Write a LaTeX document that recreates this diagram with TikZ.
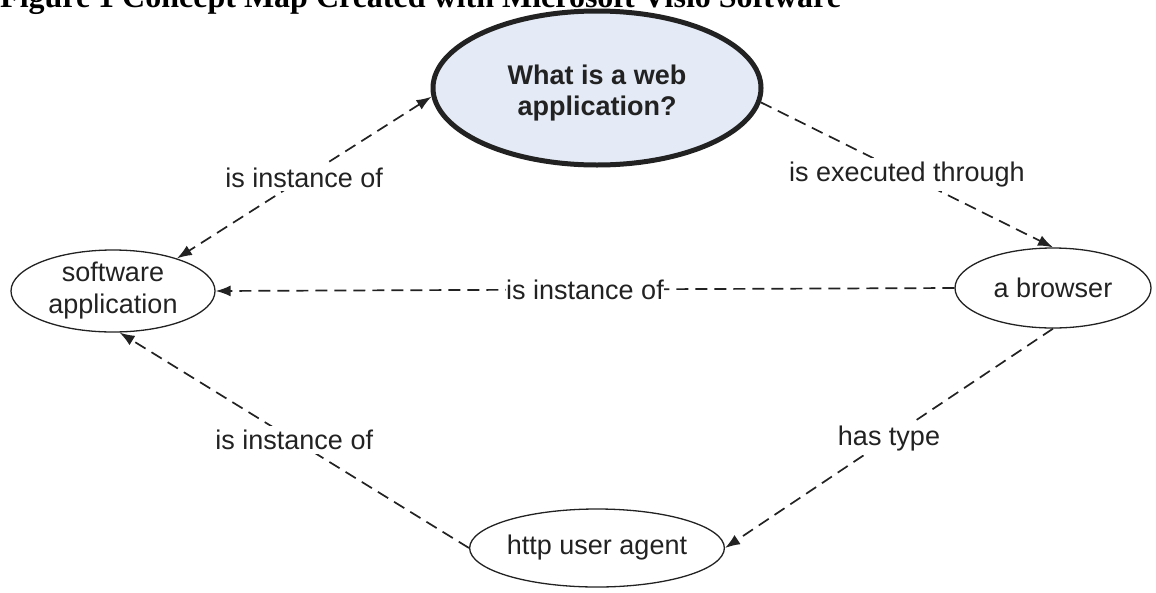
\documentclass[tikz,border=0pt]{standalone}
\usepackage{fontspec}
\setmainfont{Liberation Sans}
\newfontfamily\titlefont{Liberation Serif}
\usetikzlibrary{shapes.geometric,arrows.meta}
\definecolor{ink}{HTML}{222222}
\definecolor{mainfill}{HTML}{E4EBF6}
\begin{document}
\begin{tikzpicture}[x=1pt,y=-1pt,
  concept/.style={ellipse,draw=ink,line width=1.3pt,inner sep=0pt,align=center,
    font=\fontsize{27}{32}\selectfont,text=ink},
  link/.style={dash pattern=on 12pt off 7pt,line width=1.7pt,draw=ink,
    -{Latex[length=15pt,width=11pt]}},
  lbl/.style={fill=white,inner sep=4pt,font=\fontsize{27}{31}\selectfont,text=ink}]
\clip (0,0) rectangle (1156,592);
\useasboundingbox (0,0) rectangle (1156,592);
\node[anchor=base west,inner sep=0pt,font=\titlefont\bfseries\fontsize{32}{36}\selectfont] (title) at (0,7)
  {Figure 1 Concept Map Created with Microsoft Visio Software};
\node[concept,line width=5pt,fill=mainfill,minimum width=328pt,minimum height=154pt] (main) at (597,88) {};
\node[align=center,inner sep=0pt,text=ink,font=\bfseries\fontsize{27}{31}\selectfont] (maintext) at (597,93) {What is a web\\application?};
\node[concept,minimum width=204pt,minimum height=82pt] (soft) at (113,291) {software\\application};
\node[concept,minimum width=196pt,minimum height=80pt] (brow) at (1053,288) {a browser};
\node[concept,minimum width=204pt,minimum height=78pt] (http) at (597,548) {http user agent};
\draw[link,{Latex[length=15pt,width=11pt]}-{Latex[length=15pt,width=11pt]}] (main.183) -- node[lbl] {is instance of} (soft.27);
\draw[link] (main.-5) -- node[lbl] {is executed through} (brow.north);
\draw[link] (brow.west) -- node[lbl,inner sep=0.5pt] {is instance of} (soft.east);
\draw[link] (http.west) -- node[lbl] {is instance of} (soft.-81);
\draw[link] (brow.south) -- node[lbl] {has type} (http.east);
\end{tikzpicture}
\end{document}
